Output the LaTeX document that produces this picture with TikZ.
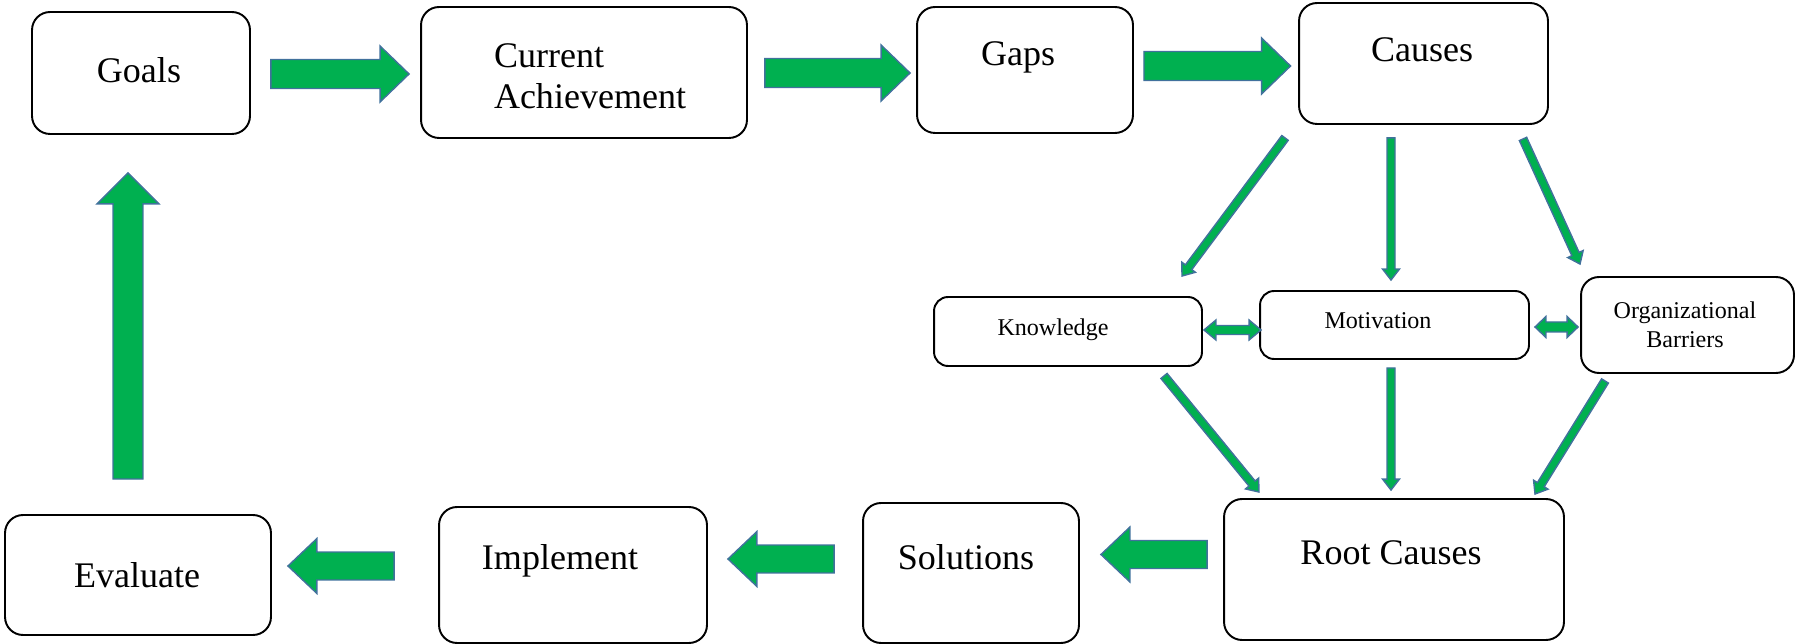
\documentclass[tikz,border=0pt]{standalone}
\usepackage{fontspec}
\setmainfont{Liberation Serif}
\usetikzlibrary{calc}

\definecolor{arrowgreen}{RGB}{0,176,80}
\definecolor{arrowblue}{RGB}{65,113,156}

% block arrow: from, to, half body, half head, head length
\newcommand\blockarrow[5]{%
  \coordinate (ba) at (#1);
  \coordinate (bb) at (#2);
  \coordinate (bh) at ($(bb)!#5!(ba)$);
  \draw[arrowfill] ($(ba)!#3!90:(bb)$) -- ($(bh)!#3!90:(bb)$) -- ($(bh)!#4!90:(bb)$) -- (bb)
    -- ($(bh)!#4!-90:(bb)$) -- ($(bh)!#3!-90:(bb)$) -- ($(ba)!#3!-90:(bb)$) -- cycle;
}
% same with a head at both ends
\newcommand\twinarrow[5]{%
  \coordinate (ba) at (#1);
  \coordinate (bb) at (#2);
  \coordinate (bg) at ($(ba)!#5!(bb)$);
  \coordinate (bh) at ($(bb)!#5!(ba)$);
  \draw[arrowfill] (ba) -- ($(bg)!#4!90:(bb)$) -- ($(bg)!#3!90:(bb)$) -- ($(bh)!#3!90:(bb)$)
    -- ($(bh)!#4!90:(bb)$) -- (bb) -- ($(bh)!#4!-90:(bb)$) -- ($(bh)!#3!-90:(bb)$)
    -- ($(bg)!#3!-90:(bb)$) -- ($(bg)!#4!-90:(bb)$) -- cycle;
}

\begin{document}
\begin{tikzpicture}[x=0.02cm, y=-0.02cm,
  box/.style={draw, line width=1.1pt, rounded corners=0.36cm, inner sep=0pt},
  bigtext/.style={font=\fontsize{20.5}{23.5}\selectfont, inner sep=0pt},
  smalltext/.style={font=\fontsize{13.7}{16.5}\selectfont, inner sep=0pt},
  oneline/.style={text height=#1, text depth=0pt},
  arrowfill/.style={fill=arrowgreen, draw=arrowblue, line width=0.8pt}]

\useasboundingbox (0,0) rectangle (1797,644);

% boxes
\node[box, minimum width=4.36cm, minimum height=2.44cm] (goals) at (141,73) {};
\node[box, minimum width=6.52cm, minimum height=2.62cm] (ca) at (584,72.5) {};
\node[box, minimum width=4.32cm, minimum height=2.52cm] (gaps) at (1025,70) {};
\node[box, minimum width=4.98cm, minimum height=2.42cm] (causes) at (1423.5,63.5) {};
\node[box, minimum width=5.36cm, minimum height=1.38cm, rounded corners=0.28cm] (knowledge) at (1068,331.5) {};
\node[box, minimum width=5.38cm, minimum height=1.36cm, rounded corners=0.28cm] (motivation) at (1394.5,325) {};
\node[box, minimum width=4.26cm, minimum height=1.92cm] (org) at (1687.5,325) {};
\node[box, minimum width=6.80cm, minimum height=2.82cm] (root) at (1394,569.5) {};
\node[box, minimum width=4.32cm, minimum height=2.80cm] (solutions) at (971,573) {};
\node[box, minimum width=5.36cm, minimum height=2.72cm] (implement) at (573,575) {};
\node[box, minimum width=5.32cm, minimum height=2.40cm] (evaluate) at (138,575) {};

% texts
\node[bigtext, oneline=13.6pt] (goalstxt) at (139,71) {Goals};
\node[bigtext, align=left] (catxt) at (590,76) {Current\\Achievement};
\node[bigtext, oneline=13.6pt] (gapstxt) at (1018,54) {Gaps};
\node[bigtext, oneline=13.6pt] (causestxt) at (1422,50) {Causes};
\node[smalltext, oneline=9.1pt] (knowtxt) at (1053,328) {Knowledge};
\node[smalltext, oneline=9.1pt] (mottxt) at (1378,321) {Motivation};
\node[smalltext, align=center] (orgtxt) at (1685,325) {Organizational\\Barriers};
\node[bigtext, oneline=13.6pt] (roottxt) at (1391,553) {Root Causes};
\node[bigtext, oneline=13.6pt] (soltxt) at (966,558) {Solutions};
\node[bigtext, oneline=13.6pt] (impltxt) at (560,558) {Implement};
\node[bigtext, oneline=13.6pt] (evaltxt) at (137,576) {Evaluate};

% wide arrows
\blockarrow{$(goals.east)+(20,1)$}{$(ca.west)+(-11,1.5)$}{0.29cm}{0.56cm}{0.58cm}
\blockarrow{$(ca.east)+(17,0.5)$}{$(gaps.west)+(-6,3)$}{0.29cm}{0.56cm}{0.58cm}
\blockarrow{$(gaps.east)+(10,-4)$}{$(causes.west)+(-7.5,2.5)$}{0.29cm}{0.56cm}{0.58cm}
\blockarrow{$(root.west)+(-16,-15)$}{$(solutions.east)+(21,-18.5)$}{0.28cm}{0.55cm}{0.58cm}
\blockarrow{$(solutions.west)+(-28,-14)$}{$(implement.east)+(20,-16)$}{0.28cm}{0.55cm}{0.58cm}
\blockarrow{$(implement.west)+(-44,-9)$}{$(evaluate.east)+(16,-9)$}{0.28cm}{0.55cm}{0.58cm}
\blockarrow{$(evaluate.north)+(-10,-35)$}{$(goals.south)+(-13,38)$}{0.30cm}{0.62cm}{0.62cm}

% thin arrows
\blockarrow{$(causes.south)+(-138.5,13)$}{$(knowledge.north)+(114,-20)$}{0.08cm}{0.17cm}{0.22cm}
\blockarrow{$(causes.south)+(-32.5,13)$}{$(motivation.north)+(-3.5,-10)$}{0.08cm}{0.17cm}{0.22cm}
\blockarrow{$(causes.south)+(99.5,14)$}{$(org.north)+(-107.5,-12)$}{0.08cm}{0.17cm}{0.22cm}
\blockarrow{$(knowledge.south)+(96,9)$}{$(root.north)+(-135,-6)$}{0.08cm}{0.17cm}{0.22cm}
\blockarrow{$(motivation.south)+(-3.5,8)$}{$(root.north)+(-3,-8)$}{0.08cm}{0.17cm}{0.22cm}
\blockarrow{$(org.south)+(-82.5,7)$}{$(root.north)+(141,-4)$}{0.08cm}{0.17cm}{0.22cm}

% both ways
\twinarrow{$(knowledge.east)+(1,-1.5)$}{$(motivation.west)+(2,5)$}{0.09cm}{0.2cm}{0.24cm}
\twinarrow{$(motivation.east)+(5,2)$}{$(org.west)+(-2,2)$}{0.1cm}{0.21cm}{0.22cm}

\end{tikzpicture}
\end{document}
